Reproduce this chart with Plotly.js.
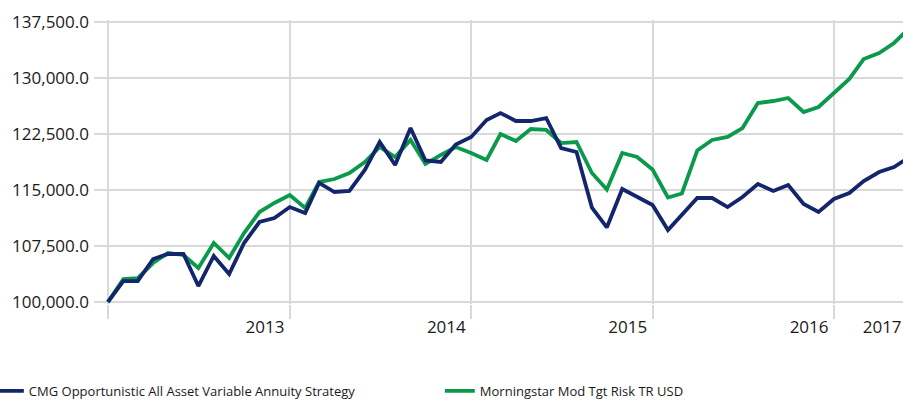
<!DOCTYPE html>
<html>
<head>
<meta charset="utf-8">
<script src="https://cdn.plot.ly/plotly-3.0.1.min.js"></script>
<style>html,body{margin:0;padding:0;background:#fff;}#chart{width:903px;height:401px;}</style>
</head>
<body>
<div id="chart"></div>
<script>
// Monthly observation dates (first point = start of series)
const months = [
  '2012-01-01','2012-02-01','2012-03-01','2012-04-01','2012-05-01','2012-06-01',
  '2012-07-01','2012-08-01','2012-09-01','2012-10-01','2012-11-01','2012-12-01',
  '2013-01-01','2013-02-01','2013-03-01','2013-04-01','2013-05-01','2013-06-01',
  '2013-07-01','2013-08-01','2013-09-01','2013-10-01','2013-11-01','2013-12-01',
  '2014-01-01','2014-02-01','2014-03-01','2014-04-01','2014-05-01','2014-06-01',
  '2014-07-01','2014-08-01','2014-09-01','2014-10-01','2014-11-01','2014-12-01',
  '2015-01-01','2015-02-01','2015-03-01','2015-04-01','2015-05-01','2015-06-01',
  '2015-07-01','2015-08-01','2015-09-01','2015-10-01','2015-11-01','2015-12-01',
  '2016-01-01','2016-02-01','2016-03-01','2016-04-01','2016-05-01','2016-06-01'
];

const cmgName = 'CMG Opportunistic All Asset Variable Annuity Strategy';
const cmgValues = [
  100000, 102800, 102800, 105760, 106430, 106430, 102140, 106160, 103750, 107900,
  110710, 111250, 112720, 111920, 115940, 114730, 114870, 117680, 121430, 118350,
  123300, 118950, 118750, 121100, 122100, 124375, 125310, 124240, 124240, 124640,
  120620, 120090, 112650, 109980, 115130, 114060, 112990, 109640, 111650, 113930,
  113930, 112720, 114060, 115800, 114870, 115670, 113125, 112050, 113800, 114600,
  116200, 117410, 118080, 119400
];

const msName = 'Morningstar Mod Tgt Risk TR USD';
const msValues = [
  100000, 103080, 103210, 105220, 106560, 106300, 104550, 107900, 105900, 109240,
  112050, 113260, 114330, 112590, 116070, 116470, 117280, 118750, 120760, 119420,
  121700, 118480, 119690, 120760, 119960, 119020, 122500, 121560, 123170, 123040,
  121290, 121430, 117280, 115070, 119960, 119420, 117740, 114000, 114530, 120290,
  121700, 122100, 123300, 126650, 126920, 127320, 125450, 126120, 127990, 129870,
  132540, 133350, 134690, 136700
];

// Axis: year gridlines and year tick labels (as printed on the reference)
const yearGridDates = ['2012-01-01','2013-01-01','2014-01-01','2015-01-01','2016-01-01'];
const yearLabelDates = ['2012-11-12','2013-11-12','2014-11-12','2015-11-12','2016-04-07'];
const yearLabels = ['2013','2014','2015','2016','2017'];
const yTickValues = [100000, 107500, 115000, 122500, 130000, 137500];

const NAVY = '#13256b';
const GREEN = '#0b9a4c';
const GRID = '#d9d9d9';
const TEXT = '#1a1a1a';
const xRange = ['2011-12-04', '2016-05-19'];

const traces = [
  {
    type: 'scatter', mode: 'lines', name: msName,
    x: months, y: msValues, xaxis: 'x', yaxis: 'y',
    line: {color: GREEN, width: 3.8}
  },
  {
    type: 'scatter', mode: 'lines', name: cmgName,
    x: months, y: cmgValues, xaxis: 'x2', yaxis: 'y',
    line: {color: NAVY, width: 3.8}
  }
];

const layout = {
  width: 903, height: 401,
  margin: {l: 94, r: 0, t: 20, b: 97, autoexpand: false},
  paper_bgcolor: '#ffffff', plot_bgcolor: '#ffffff',
  font: {family: 'Open Sans, sans-serif', color: TEXT, size: 17},
  showlegend: true,
  legend: {
    orientation: 'h', traceorder: 'reversed',
    x: -0.13, xanchor: 'left', y: -0.306, yanchor: 'middle',
    font: {family: 'Open Sans, sans-serif', size: 13, color: TEXT},
    itemwidth: 30, entrywidth: 406, entrywidthmode: 'pixels',
    bgcolor: 'rgba(0,0,0,0)', borderwidth: 0
  },
  xaxis: {
    type: 'date', range: xRange,
    tickmode: 'array', tickvals: yearGridDates, ticktext: yearGridDates.map(() => ''),
    showticklabels: false,
    showgrid: true, gridcolor: GRID, gridwidth: 2,
    ticks: 'outside', ticklen: 14, tickwidth: 2, tickcolor: GRID,
    showline: false, zeroline: false, fixedrange: true
  },
  xaxis2: {
    type: 'date', overlaying: 'x', anchor: 'y', side: 'bottom', range: xRange,
    tickmode: 'array', tickvals: yearLabelDates, ticktext: yearLabels,
    showgrid: false, zeroline: false, showline: false,
    ticks: 'outside', ticklen: 8, tickcolor: 'rgba(0,0,0,0)',
    ticklabeloverflow: 'allow',
    tickfont: {size: 17, color: TEXT}
  },
  yaxis: {
    range: [99732, 137768],
    tickmode: 'array', tickvals: yTickValues,
    tickformat: ',.1f',
    showgrid: true, gridcolor: GRID, gridwidth: 2,
    zeroline: false, showline: false,
    ticks: '', ticklabelstandoff: 4,
    tickfont: {size: 17, color: TEXT}
  }
};

Plotly.newPlot('chart', traces, layout, {staticPlot: true, displayModeBar: false});
</script>
</body>
</html>
